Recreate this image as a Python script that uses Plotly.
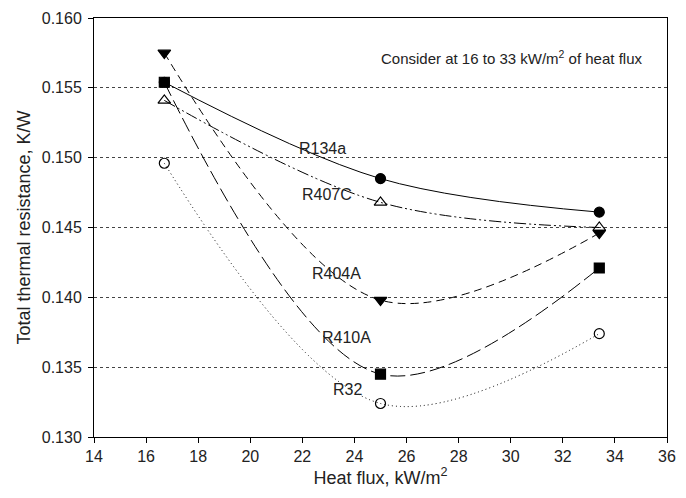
import plotly.graph_objects as go

heat_flux = [16.7, 25.0, 33.4]

r134a = [0.1554, 0.1485, 0.1461]
r407c = [0.1541, 0.1468, 0.1450]
r404a = [0.1575, 0.1398, 0.1446]
r410a = [0.1554, 0.1345, 0.1421]
r32 = [0.1496, 0.1324, 0.1374]

label_names = ["R134a", "R407C", "R404A", "R410A", "R32"]
label_x = [22.77, 22.96, 23.32, 23.68, 23.74]
label_y = [0.15069, 0.14739, 0.14168, 0.13710, 0.13342]

FONT = "Liberation Sans, Arial, sans-serif"

series = [
    (r134a, "solid", "circle", 10),
    (r407c, "12px,3px,2px,3px,2px,3px", "triangle-up-open", 11),
    (r404a, "8px,5px", "triangle-down", 11),
    (r410a, "15px,5px", "square", 10),
    (r32, "1px,3px", "circle-open", 10),
]

fig = go.Figure()
for vals, dash, sym, size in series:
    fig.add_trace(go.Scatter(
        x=heat_flux, y=vals, mode="lines+markers",
        line=dict(color="black", width=1, dash=dash, shape="spline", smoothing=1.0),
        marker=dict(symbol=sym, size=size, color="black",
                    line=dict(color="black", width=1.2)),
        showlegend=False,
    ))

for name, lx, ly in zip(label_names, label_x, label_y):
    fig.add_annotation(x=lx, y=ly, text=name, showarrow=False,
                       font=dict(family=FONT, size=16, color="#222"))

fig.add_annotation(x=0.959, y=0.933, xref="paper", yref="paper", xanchor="right",
                   text="Consider at 16 to 33 kW/m<sup>2</sup> of heat flux",
                   showarrow=False, font=dict(family=FONT, size=15, color="#222"))

fig.update_layout(
    width=686, height=498,
    margin=dict(l=94, r=10, t=17, b=61),
    paper_bgcolor="white", plot_bgcolor="white",
    font=dict(family=FONT, size=16, color="#222"),
    xaxis=dict(
        range=[14, 36], dtick=2, tick0=14, showgrid=False, zeroline=False,
        showline=True, linecolor="black", linewidth=1, mirror=True,
        ticks="outside", ticklen=5, tickcolor="black",
        title=dict(text="Heat flux, kW/m<sup>2</sup>", font=dict(size=18), standoff=6),
    ),
    yaxis=dict(
        range=[0.130, 0.160], dtick=0.005, tick0=0.130, tickformat=".3f",
        showgrid=True, gridcolor="#444", griddash="dot", gridwidth=1, zeroline=False,
        showline=True, linecolor="black", linewidth=1, mirror=True,
        ticks="outside", ticklen=5, tickcolor="black", ticklabelstandoff=3,
        title=dict(text="Total thermal resistance, K/W", font=dict(size=18), standoff=6),
    ),
)

fig.write_html("out.html")
